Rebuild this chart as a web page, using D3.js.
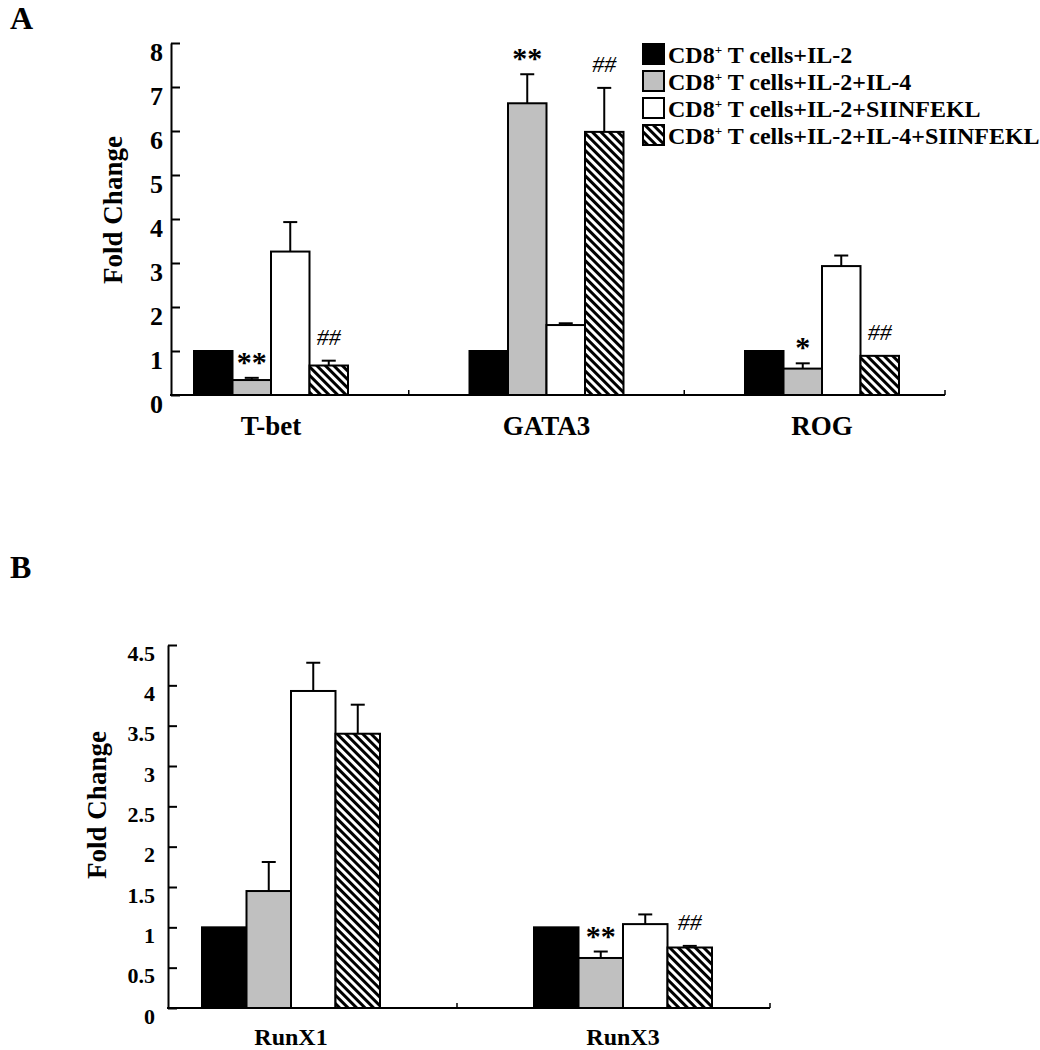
<!DOCTYPE html>
<html>
<head>
<meta charset="utf-8">
<script src="https://cdn.jsdelivr.net/npm/d3@7"></script>
<style>
  html, body { margin: 0; padding: 0; background: #fff; }
  svg { display: block; }
  text { font-family: "Liberation Serif", "Times New Roman", serif; font-weight: bold; fill: #000; }
</style>
</head>
<body>
<svg id="chart" width="1040" height="1050"></svg>
<script>
// ---------- data ----------
const seriesNames = ["CD8+ T cells+IL-2", "CD8+ T cells+IL-2+IL-4", "CD8+ T cells+IL-2+SIINFEKL", "CD8+ T cells+IL-2+IL-4+SIINFEKL"];
const seriesSuffix = [" T cells+IL-2", " T cells+IL-2+IL-4", " T cells+IL-2+SIINFEKL", " T cells+IL-2+IL-4+SIINFEKL"];

// Panel A
const genesA = ["T-bet", "GATA3", "ROG"];
const il2A      = [1.00, 1.00, 1.00];
const il2il4A   = [0.34, 6.63, 0.60];
const il2siiA   = [3.26, 1.59, 2.93];
const il2il4siiA= [0.67, 5.98, 0.89];
const errIl2A      = [0, 0, 0];
const errIl2il4A   = [0.05, 0.66, 0.12];
const errIl2siiA   = [0.67, 0.04, 0.24];
const errIl2il4siiA= [0.11, 1.00, 0.00];
const sigIl2il4A    = ["**", "**", "*"];
const sigIl2il4siiA = ["##", "##", "##"];
const ticksA = [0, 1, 2, 3, 4, 5, 6, 7, 8];

// Panel B
const genesB = ["RunX1", "RunX3"];
const il2B      = [1.00, 1.00];
const il2il4B   = [1.45, 0.62];
const il2siiB   = [3.93, 1.04];
const il2il4siiB= [3.40, 0.75];
const errIl2B      = [0, 0];
const errIl2il4B   = [0.36, 0.08];
const errIl2siiB   = [0.35, 0.12];
const errIl2il4siiB= [0.36, 0.02];
const sigIl2il4B    = ["", "**"];
const sigIl2il4siiB = ["", "##"];
const ticksB = [0, 0.5, 1, 1.5, 2, 2.5, 3, 3.5, 4, 4.5];

// ---------- drawing ----------
const svg = d3.select("#chart");
const defs = svg.append("defs");
const hatch = defs.append("pattern")
  .attr("id", "hatch").attr("patternUnits", "userSpaceOnUse")
  .attr("width", 6).attr("height", 6)
  .attr("patternTransform", "rotate(-45)");
hatch.append("rect").attr("width", 6).attr("height", 6).attr("fill", "#fff");
hatch.append("rect").attr("width", 3).attr("height", 6).attr("fill", "#000");

const fills = ["#000", "#c0c0c0", "#fff", "url(#hatch)"];

function panel(cfg) {
  const g = svg.append("g");
  const y = d3.scaleLinear().domain([0, cfg.ymax]).range([cfg.y0, cfg.y1]);
  const xg = d3.scalePoint().domain(cfg.genes).range(cfg.groupRange);
  const xs = d3.scaleBand().domain(d3.range(4)).range([-2 * cfg.barW, 2 * cfg.barW]);

  // y axis
  const ax = g.append("g").attr("transform", `translate(${cfg.x0},0)`)
    .call(d3.axisLeft(y).tickValues(cfg.ticks).tickSizeInner(-9).tickSizeOuter(0)
      .tickPadding(cfg.labPad).tickFormat(d3.format("")));
  ax.select(".domain").attr("stroke", "#000").attr("stroke-width", 2);
  ax.selectAll(".tick line").attr("stroke", "#000").attr("stroke-width", 2);
  ax.selectAll(".tick text").attr("dy", 0).attr("y", cfg.labDy)
    .style("font-size", cfg.tickFont + "px").style("font-family", "Liberation Serif").style("font-weight", "bold");

  // x axis line
  g.append("line").attr("x1", cfg.x0 - 1).attr("x2", cfg.xEnd).attr("y1", cfg.y0).attr("y2", cfg.y0)
    .attr("stroke", "#000").attr("stroke-width", 2);
  const bounds = cfg.genes.slice(1).map((d, i) => (xg(cfg.genes[i]) + xg(d)) / 2).concat([cfg.xEnd]);
  g.selectAll(".sep").data(bounds).join("line")
    .attr("x1", d => d).attr("x2", d => d).attr("y1", cfg.y0).attr("y2", cfg.y0 - 5)
    .attr("stroke", "#000").attr("stroke-width", 1.5);

  // bars
  cfg.series.forEach((vals, si) => {
    const sg = g.append("g");
    sg.selectAll("rect").data(vals).join("rect")
      .attr("x", (d, i) => xg(cfg.genes[i]) + xs(si))
      .attr("width", xs.bandwidth())
      .attr("y", d => y(d))
      .attr("height", d => cfg.y0 - y(d))
      .attr("fill", fills[si]).attr("stroke", "#000").attr("stroke-width", 2);
    // error bars
    const errs = cfg.errors[si];
    vals.forEach((v, i) => {
      if (!errs[i]) return;
      const cx = xg(cfg.genes[i]) + xs(si) + xs.bandwidth() / 2;
      g.append("line").attr("x1", cx).attr("x2", cx).attr("y1", y(v)).attr("y2", y(v + errs[i]))
        .attr("stroke", "#000").attr("stroke-width", 2);
      g.append("line").attr("x1", cx - 7).attr("x2", cx + 7).attr("y1", y(v + errs[i])).attr("y2", y(v + errs[i]))
        .attr("stroke", "#000").attr("stroke-width", 2);
    });
  });

  // significance marks
  [[1, cfg.sig1, 6, 30, "bold"], [3, cfg.sig3, 16, 24, "normal"]].forEach(([si, marks, off, fs, fw]) => {
    marks.forEach((m, i) => {
      if (!m) return;
      const v = cfg.series[si][i] + cfg.errors[si][i];
      g.append("text").text(m)
        .attr("x", xg(cfg.genes[i]) + xs(si) + xs.bandwidth() / 2)
        .attr("y", y(v) - off)
        .attr("text-anchor", "middle")
        .style("font-size", fs + "px").style("font-weight", fw)
        .style("font-style", m.startsWith("#") ? "italic" : "normal");
    });
  });

  // category labels
  g.selectAll(".cat").data(cfg.genes).join("text")
    .attr("x", d => xg(d)).attr("y", cfg.catY)
    .attr("text-anchor", "middle").style("font-size", cfg.catFont + "px").text(d => d);

  // y title
  g.append("text").text("Fold Change")
    .attr("transform", `translate(${cfg.titleX},${cfg.titleY}) rotate(-90)`)
    .attr("text-anchor", "middle").style("font-size", cfg.titleFont + "px");

  // panel letter
  g.append("text").text(cfg.letter).attr("x", cfg.letterX).attr("y", cfg.letterY)
    .style("font-size", "32px");
}

panel({
  genes: genesA, ymax: 8, y0: 395, y1: 43, x0: 171, xEnd: 945,
  groupRange: [271, 822], barW: 38.5, ticks: ticksA,
  series: [il2A, il2il4A, il2siiA, il2il4siiA],
  errors: [errIl2A, errIl2il4A, errIl2siiA, errIl2il4siiA],
  sig1: sigIl2il4A, sig3: sigIl2il4siiA,
  tickFont: 26, labPad: 8, labDy: 17,
  catY: 435, catFont: 27,
  titleX: 122, titleY: 210, titleFont: 27,
  letter: "A", letterX: 10, letterY: 29
});

panel({
  genes: genesB, ymax: 4.5, y0: 1008, y1: 645, x0: 168, xEnd: 770,
  groupRange: [291, 623], barW: 44.5, ticks: ticksB,
  series: [il2B, il2il4B, il2siiB, il2il4siiB],
  errors: [errIl2B, errIl2il4B, errIl2siiB, errIl2il4siiB],
  sig1: sigIl2il4B, sig3: sigIl2il4siiB,
  tickFont: 22, labPad: 13, labDy: 15,
  catY: 1045, catFont: 24,
  titleX: 106, titleY: 805, titleFont: 27,
  letter: "B", letterX: 10, letterY: 578
});

// legend
const leg = svg.append("g");
seriesNames.forEach((name, i) => {
  const yy = 44 + i * 27;
  leg.append("rect").attr("x", 643).attr("y", yy).attr("width", 21).attr("height", 20)
    .attr("fill", fills[i]).attr("stroke", "#000").attr("stroke-width", 2);
  const t = leg.append("text").attr("x", 668).attr("y", yy + 19).style("font-size", "24px");
  t.append("tspan").text("CD8");
  t.append("tspan").text("+").style("font-size", "13px").attr("dy", -9);
  t.append("tspan").text(seriesSuffix[i]).attr("dy", 9);
});
</script>
</body>
</html>
